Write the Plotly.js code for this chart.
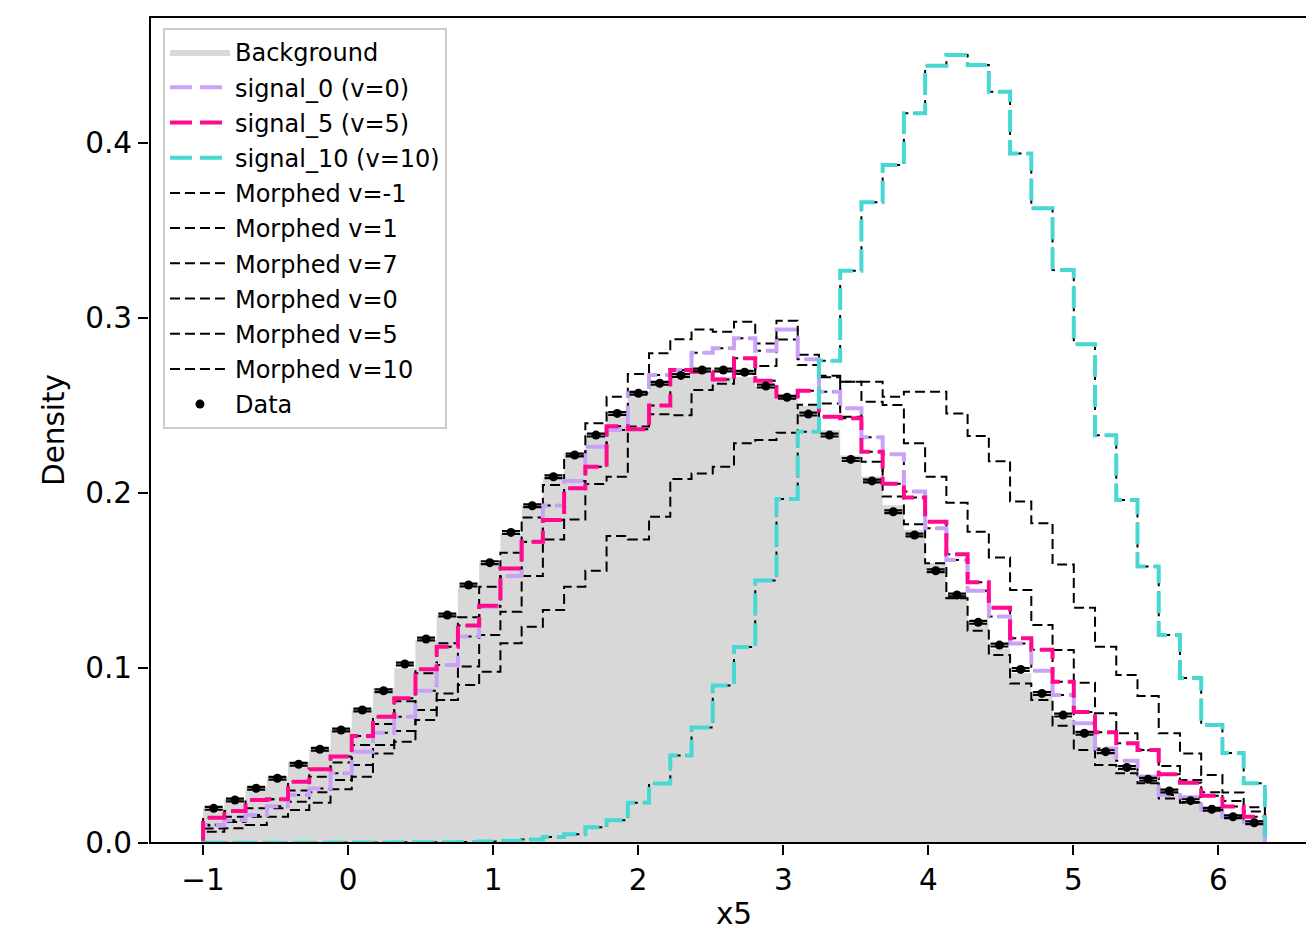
<!DOCTYPE html>
<html><head><meta charset="utf-8">
<script src="https://cdn.plot.ly/plotly-3.0.1.min.js"></script>
<style>html,body{margin:0;padding:0;overflow:hidden;background:#fff}#chart{width:1318px;height:931px}</style>
</head><body><div id="chart"></div>
<script>
const binLo = -1, binHi = 6.32, nBins = 50;

const background = [0.0200,0.0250,0.0318,0.0375,0.0465,0.0537,0.0650,0.0765,0.0884,0.0998,
  0.1160,0.1300,0.1461,0.1610,0.1770,0.1930,0.2080,0.2230,0.2345,0.2460,
  0.2560,0.2640,0.2688,0.2690,0.2665,0.2661,0.2611,0.2547,0.2497,0.2360,
  0.2214,0.2094,0.1930,0.1790,0.1600,0.1420,0.1265,0.1110,0.0970,0.0840,
  0.0710,0.0615,0.0512,0.0420,0.0355,0.0290,0.0236,0.0188,0.0146,0.0112];

const dataVals = [0.0198,0.0246,0.0313,0.0370,0.0450,0.0536,0.0646,0.0760,0.0870,0.1023,
  0.1166,0.1303,0.1474,0.1602,0.1775,0.1927,0.2093,0.2217,0.2331,0.2455,
  0.2570,0.2627,0.2672,0.2703,0.2703,0.2690,0.2611,0.2547,0.2451,0.2331,
  0.2192,0.2069,0.1893,0.1760,0.1556,0.1417,0.1261,0.1131,0.0992,0.0855,
  0.0731,0.0627,0.0522,0.0432,0.0364,0.0297,0.0242,0.0193,0.0150,0.0116];
const dataErr = 0.0008;

const signal0 = [0.0100,0.0130,0.0160,0.0210,0.0274,0.0312,0.0398,0.0522,0.0630,0.0722,
  0.0870,0.1017,0.1180,0.1350,0.1526,0.1720,0.1928,0.2068,0.2265,0.2360,
  0.2570,0.2674,0.2703,0.2802,0.2827,0.2884,0.2813,0.2935,0.2764,0.2579,
  0.2484,0.2318,0.2222,0.2008,0.1798,0.1617,0.1441,0.1295,0.1140,0.0985,
  0.0846,0.0684,0.0540,0.0470,0.0380,0.0274,0.0262,0.0190,0.0150,0.0120];

const signal5 = [0.0145,0.0183,0.0246,0.0250,0.0350,0.0422,0.0494,0.0611,0.0722,0.0827,
  0.0993,0.1122,0.1243,0.1356,0.1569,0.1722,0.1846,0.2027,0.2150,0.2382,
  0.2365,0.2500,0.2703,0.2693,0.2648,0.2770,0.2642,0.2551,0.2585,0.2436,
  0.2427,0.2236,0.2053,0.1974,0.1836,0.1650,0.1490,0.1344,0.1170,0.1105,
  0.0922,0.0748,0.0633,0.0570,0.0531,0.0393,0.0345,0.0270,0.0208,0.0150];

const signal10 = [0.0002,0.0002,0.0002,0.0002,0.0002,0.0002,0.0003,0.0003,0.0003,0.0004,
  0.0004,0.0005,0.0006,0.0008,0.0012,0.0020,0.0035,0.0050,0.0090,0.0130,
  0.0230,0.0340,0.0500,0.0660,0.0900,0.1120,0.1500,0.1966,0.2350,0.2756,
  0.3270,0.3661,0.3874,0.4170,0.4442,0.4503,0.4446,0.4293,0.3940,0.3627,
  0.3274,0.2850,0.2330,0.1960,0.1580,0.1189,0.0943,0.0674,0.0514,0.0341];

const morphedM1 = [0.0105,0.0150,0.0198,0.0250,0.0300,0.0379,0.0460,0.0560,0.0680,0.0810,
  0.0970,0.1141,0.1290,0.1465,0.1659,0.1860,0.2046,0.2211,0.2398,0.2550,
  0.2680,0.2798,0.2878,0.2935,0.2922,0.2979,0.2855,0.2985,0.2790,0.2661,
  0.2436,0.2179,0.1980,0.1821,0.1598,0.1398,0.1213,0.1074,0.0912,0.0817,
  0.0670,0.0531,0.0446,0.0398,0.0341,0.0255,0.0230,0.0192,0.0150,0.0122];

const morphed1 = [0.0083,0.0120,0.0150,0.0198,0.0236,0.0290,0.0360,0.0446,0.0560,0.0640,
  0.0760,0.0855,0.1008,0.1188,0.1322,0.1526,0.1735,0.1849,0.2051,0.2093,
  0.2380,0.2450,0.2445,0.2589,0.2625,0.2680,0.2726,0.2877,0.2731,0.2670,
  0.2636,0.2522,0.2503,0.2284,0.2093,0.1945,0.1779,0.1632,0.1446,0.1246,
  0.1103,0.0916,0.0741,0.0627,0.0530,0.0440,0.0360,0.0290,0.0240,0.0180];

const morphed7 = [0.0065,0.0084,0.0103,0.0150,0.0189,0.0230,0.0307,0.0379,0.0512,0.0579,
  0.0703,0.0817,0.0903,0.0979,0.1141,0.1236,0.1331,0.1465,0.1556,0.1754,
  0.1735,0.1865,0.2080,0.2112,0.2150,0.2284,0.2303,0.2345,0.2505,0.2512,
  0.2636,0.2636,0.2550,0.2579,0.2579,0.2455,0.2326,0.2182,0.1951,0.1827,
  0.1591,0.1345,0.1122,0.0960,0.0840,0.0627,0.0512,0.0389,0.0288,0.0204];

const morphed0 = signal0.slice();
const morphed5 = signal5.slice();
const morphed10 = signal10.slice();

const binWidth = (binHi - binLo) / nBins;
const edges = Array.from({length: nBins + 1}, (_, i) => binLo + i * binWidth);
const centers = edges.slice(0, -1).map(e => e + binWidth / 2);

function stepXY(vals) {
  const x = [edges[0]], y = [0];
  vals.forEach((v, i) => { x.push(edges[i]); y.push(v); });
  x.push(edges[nBins]); y.push(vals[nBins - 1]);
  x.push(edges[nBins]); y.push(0);
  return {x, y};
}

const colDash = '22px,8px';
const blkDash = '10px,5px';

function stepTrace(vals, name, color, width, dash, z, group) {
  const s = stepXY(vals);
  return {type: 'scatter', mode: 'lines', x: s.x, y: s.y, name: name,
    line: {shape: 'hv', color: color, width: width, dash: dash},
    zorder: z, legendgroup: group, hoverinfo: 'skip'};
}

const bg = stepXY(background);
const traces = [
  {type: 'scatter', mode: 'lines', x: bg.x, y: bg.y, name: 'Background',
   line: {shape: 'hv', color: '#d8d8d8', width: 0}, fill: 'tozeroy', fillcolor: '#d8d8d8',
   zorder: 0, legendgroup: 'g0', hoverinfo: 'skip'},
  stepTrace(signal0, 'signal_0 (v=0)', '#c9a2f7', 4, colDash, 3, 'g1'),
  stepTrace(signal5, 'signal_5 (v=5)', '#ff0a8c', 4, colDash, 3, 'g2'),
  stepTrace(signal10, 'signal_10 (v=10)', '#48d8d4', 4, colDash, 3, 'g3'),
  stepTrace(morphedM1, 'Morphed v=-1', '#000000', 2, blkDash, 2, 'g4'),
  stepTrace(morphed1, 'Morphed v=1', '#000000', 2, blkDash, 2, 'g5'),
  stepTrace(morphed7, 'Morphed v=7', '#000000', 2, blkDash, 2, 'g6'),
  stepTrace(morphed0, 'Morphed v=0', '#000000', 2, blkDash, 2, 'g7'),
  stepTrace(morphed5, 'Morphed v=5', '#000000', 2, blkDash, 2, 'g8'),
  stepTrace(morphed10, 'Morphed v=10', '#000000', 2, blkDash, 2, 'g9'),
  {type: 'scatter', mode: 'markers', x: centers, y: dataVals, name: 'Data',
   marker: {color: '#000', size: 9},
   error_y: {type: 'constant', value: dataErr, width: 9, thickness: 2.2, color: '#000'},
   zorder: 4, legendgroup: 'g10', hoverinfo: 'skip'}
];

const font = {family: 'DejaVu Sans, sans-serif', color: '#000'};
const fs = 29.5;
const layout = {
  width: 1318, height: 931,
  margin: {l: 150, r: 0, t: 17, b: 88},
  paper_bgcolor: '#fff', plot_bgcolor: '#fff',
  font: Object.assign({size: fs}, font),
  showlegend: true,
  legend: {x: 0.0111, y: 0.9867, xanchor: 'left', yanchor: 'top',
    bgcolor: 'rgba(255,255,255,0.85)', bordercolor: '#cccccc', borderwidth: 2,
    font: Object.assign({size: 24}, font), traceorder: 'grouped', tracegroupgap: 1,
    itemwidth: 60},
  shapes: [{type: 'rect', xref: 'paper', yref: 'paper', x0: 0, x1: 1, y0: 0, y1: 1,
    line: {color: '#000', width: 2}, fillcolor: 'rgba(0,0,0,0)', layer: 'above'}],
  xaxis: {range: [-1.366, 6.686], tickmode: 'array', tickvals: [-1,0,1,2,3,4,5,6],
    showgrid: false, zeroline: false, showline: true, mirror: true, linecolor: '#000', linewidth: 2,
    ticks: 'outside', ticklen: 10, tickwidth: 2, tickcolor: '#000',
    tickfont: Object.assign({size: fs}, font),
    title: {text: 'x5', font: Object.assign({size: fs}, font), standoff: 10}},
  yaxis: {range: [0, 0.472], tickmode: 'array', tickvals: [0, 0.1, 0.2, 0.3, 0.4], tickformat: '.1f',
    showgrid: false, zeroline: false, showline: true, mirror: true, linecolor: '#000', linewidth: 2,
    ticks: 'outside', ticklen: 10, tickwidth: 2, tickcolor: '#000',
    tickfont: Object.assign({size: fs}, font),
    title: {text: 'Density', font: Object.assign({size: fs}, font), standoff: 12}}
};

Plotly.newPlot('chart', traces, layout, {displayModeBar: false, staticPlot: true});
</script></body></html>
